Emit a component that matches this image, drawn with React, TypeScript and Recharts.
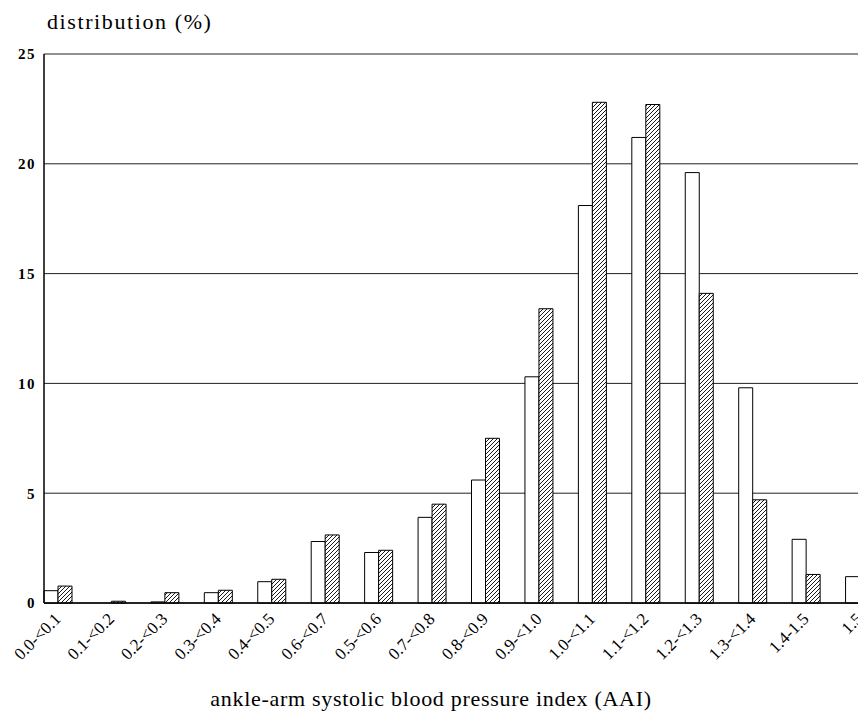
import React from 'react';
import { BarChart, Bar, XAxis, YAxis, CartesianGrid } from 'recharts';

// AAI class labels (order as printed on the figure)
const categories = [
  '0.0-<0.1', '0.1-<0.2', '0.2-<0.3', '0.3-<0.4', '0.4-<0.5', '0.6-<0.7',
  '0.5-<0.6', '0.7-<0.8', '0.8-<0.9', '0.9-<1.0', '1.0-<1.1', '1.1-<1.2',
  '1.2-<1.3', '1.3-<1.4', '1.4-1.5', '1.5',
];

// distribution (%) - open bars
const openValues = [0.56, 0, 0.05, 0.47, 0.97, 2.8, 2.3, 3.9, 5.6, 10.3, 18.1, 21.2, 19.6, 9.8, 2.9, 1.2];
// distribution (%) - hatched bars
const hatchedValues = [0.77, 0.08, 0.47, 0.58, 1.08, 3.1, 2.4, 4.5, 7.5, 13.4, 22.8, 22.7, 14.1, 4.7, 1.3, 0.4];

const yTicks = [0, 5, 10, 15, 20, 25];

const data = categories.map((name, i) => ({
  name,
  open: openValues[i],
  hatched: hatchedValues[i],
}));

const FONT = '"Liberation Serif", "Times New Roman", serif';

const AngledTick = (props: any) => {
  const { x, y, payload } = props;
  return (
    <g transform={`translate(${x + 4},${y + 9})`}>
      <text
        transform="rotate(-45)"
        textAnchor="end"
        fontFamily={FONT}
        fontSize={17}
        fill="#000"
      >
        {payload.value}
      </text>
    </g>
  );
};

export default function App() {
  return (
    <div style={{ position: 'relative', width: 858, height: 705, overflow: 'hidden', fontFamily: FONT }}>
      <div
        style={{
          position: 'absolute',
          left: 39,
          top: 1,
          fontSize: 22,
          letterSpacing: 1.6,
          color: '#000',
          whiteSpace: 'nowrap',
        }}
      >
        distribution (%)
      </div>
      <BarChart
        width={858}
        height={705}
        data={data}
        margin={{ top: 46, right: 0, bottom: 0, left: 0 }}
        barGap={0}
        barSize={14}
      >
        <defs>
          <pattern id="hatch" patternUnits="userSpaceOnUse" width="4" height="4">
            <rect width="4" height="4" fill="#fff" />
            <path d="M-1,1 l2,-2 M0,4 l4,-4 M3,5 l2,-2" stroke="#000" strokeWidth={0.9} />
          </pattern>
        </defs>
        <CartesianGrid vertical={false} stroke="#222" strokeWidth={1} />
        <XAxis
          dataKey="name"
          interval={0}
          padding={{ left: -13, right: -20 }}
          height={110}
          tickLine={false}
          axisLine={{ stroke: '#000', strokeWidth: 1.5 }}
          tick={<AngledTick />}
          label={{
            value: 'ankle-arm systolic blood pressure index (AAI)',
            position: 'insideBottom',
            offset: 7,
            fill: '#000',
            fontSize: 22,
            letterSpacing: 0.7,
            fontFamily: FONT,
            dx: -24,
          }}
        />
        <YAxis
          domain={[0, 25]}
          ticks={yTicks}
          width={36}
          tickSize={0}
          tickMargin={8}
          axisLine={{ stroke: '#000', strokeWidth: 1.5 }}
          tick={{ fill: '#000', fontSize: 15, fontWeight: 'bold', fontFamily: FONT, letterSpacing: 1.5 }}
        />
        <Bar dataKey="open" fill="#fff" stroke="#000" strokeWidth={1} isAnimationActive={false} />
        <Bar dataKey="hatched" fill="url(#hatch)" stroke="#000" strokeWidth={1} isAnimationActive={false} />
      </BarChart>
    </div>
  );
}
